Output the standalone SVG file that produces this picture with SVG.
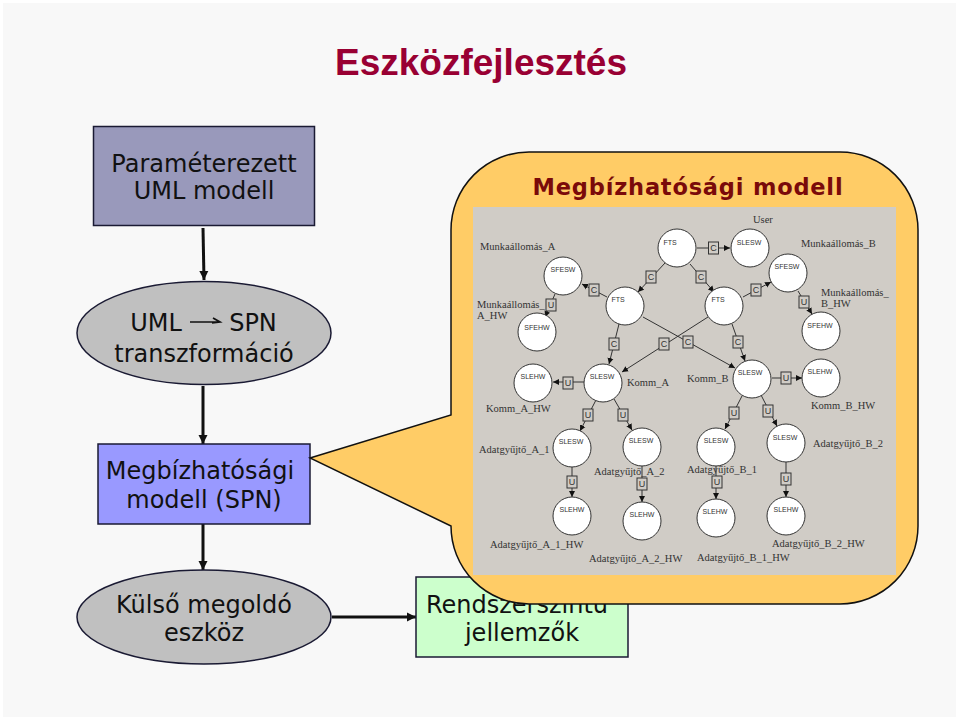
<svg xmlns="http://www.w3.org/2000/svg" width="960" height="720" viewBox="0 0 960 720">
<style>
.t{font-family:"DejaVu Sans",Verdana,sans-serif;font-size:24px;fill:#111;text-anchor:middle}
.s{stroke:#1a1a33;stroke-width:1.5}
.f{stroke:#111;stroke-width:3;fill:none}
.e{stroke:#333;stroke-width:1;fill:none;marker-end:url(#sm)}
.c{fill:#fff;stroke:#333;stroke-width:1}
.n{font-family:"Liberation Sans",Arial,sans-serif;font-size:7px;fill:#333;text-anchor:middle}
.l{font-family:"Liberation Serif","Times New Roman",serif;font-size:10.5px;fill:#333}
.b{fill:#d0ccc6;stroke:#333;stroke-width:1}
.m{font-family:"Liberation Sans",Arial,sans-serif;font-size:9px;fill:#333;text-anchor:middle}
</style>
<defs>
<marker id="big" markerUnits="userSpaceOnUse" markerWidth="10" markerHeight="10" refX="9" refY="5" orient="auto"><path d="M0 0.5L9 5L0 9.5z" fill="#111"/></marker>
<marker id="sm" markerUnits="userSpaceOnUse" markerWidth="7" markerHeight="7" refX="6" refY="3.5" orient="auto"><path d="M0 0.5L6 3.5L0 6.5z" fill="#111"/></marker>
</defs>
<rect width="960" height="720" fill="#fff"/>
<rect x="3" y="3" width="953" height="714" fill="#f8f8f8"/>
<text x="481" y="75" font-family="Liberation Sans,Arial,sans-serif" font-weight="700" font-size="37" fill="#990033" text-anchor="middle">Eszközfejlesztés</text>

<g id="connectors">
<path class="f" d="M203 228L204 280" marker-end="url(#big)"/>
<path class="f" d="M203 386V444" marker-end="url(#big)"/>
<path class="f" d="M203 524V570" marker-end="url(#big)"/>
<path class="f" d="M332 617H416" marker-end="url(#big)"/>
</g>

<g id="uml-modell"><rect class="s" x="93.500" y="126.500" width="221" height="99" fill="#9999bb"/><text class="t" x="204" y="172">Paraméterezett</text><text class="t" x="204" y="199">UML modell</text></g>
<g id="transzformacio"><ellipse class="s" cx="204" cy="333" rx="127" ry="51.500" fill="#c0c0c0"/><text class="t" x="156" y="331">UML</text><path d="M190 322H219M213 318L220 322L212 322.800" stroke="#111" stroke-width="1.700" fill="none"/><text class="t" x="253" y="331">SPN</text><text class="t" x="204" y="362">transzformáció</text></g>
<g id="spn-modell"><rect class="s" x="98" y="444" width="212" height="80" fill="#9999ff"/><text class="t" x="200" y="479">Megbízhatósági</text><text class="t" x="204" y="508">modell (SPN)</text></g>
<g id="megoldo"><ellipse class="s" cx="204" cy="617" rx="127" ry="47" fill="#c0c0c0"/><text class="t" x="204" y="613">Külső megoldó</text><text class="t" x="204" y="641">eszköz</text></g>
<g id="jellemzok"><rect class="s" x="416" y="577" width="212" height="80" fill="#ccffcc"/><text class="t" x="517" y="613">Rendszerszintű</text><text class="t" x="522" y="641">jellemzők</text></g>

<g id="callout">
<path d="M310 458L451 415V230A78 78 0 0 1 529 152H840A78 78 0 0 1 918 230V526A78 78 0 0 1 840 604H529A78 78 0 0 1 451 526Z" fill="#ffcc66" stroke="#111" stroke-width="1.500"/>
<text x="688" y="195" font-family="DejaVu Sans,Verdana,sans-serif" font-weight="700" font-size="22.500" letter-spacing="0.800" fill="#7a0a0a" text-anchor="middle">Megbízhatósági modell</text>
<rect x="473" y="207" width="423" height="368" fill="#d0ccc6"/>
</g>

<g id="inner-connectors">
<path class="e" d="M697 248H730"/>
<path class="e" d="M665 263L638 292"/>
<path class="e" d="M690 264L714 292"/>
<path class="e" d="M607 297L582 284"/>
<path class="e" d="M743 297L771 282"/>
<path class="e" d="M555 294L545 317"/>
<path class="e" d="M798 291L812 314"/>
<path class="e" d="M619 324L609 364"/>
<path class="e" d="M708 317L622 372"/>
<path class="e" d="M643 317L735 368"/>
<path class="e" d="M732 324L745 361"/>
<path class="e" d="M584 382H553"/>
<path class="e" d="M772 378H802"/>
<path class="e" d="M596 400L580 431"/>
<path class="e" d="M614 399L632 430"/>
<path class="e" d="M742 396L725 429"/>
<path class="e" d="M761 395L777 426"/>
<path class="e" d="M572 467V497"/>
<path class="e" d="M642 465V502"/>
<path class="e" d="M716 465V499"/>
<path class="e" d="M786 462V497"/>
<g><rect class="b" x="708.500" y="242" width="10" height="12"/><text class="m" x="713.500" y="251">C</text></g>
<g><rect class="b" x="646" y="271" width="10" height="12"/><text class="m" x="651" y="280">C</text></g>
<g><rect class="b" x="696" y="271" width="10" height="12"/><text class="m" x="701" y="280">C</text></g>
<g><rect class="b" x="589" y="284" width="10" height="12"/><text class="m" x="594" y="293">C</text></g>
<g><rect class="b" x="751" y="284" width="10" height="12"/><text class="m" x="756" y="293">C</text></g>
<g><rect class="b" x="546" y="299" width="10" height="12"/><text class="m" x="551" y="308">U</text></g>
<g><rect class="b" x="799" y="296" width="10" height="12"/><text class="m" x="804" y="305">U</text></g>
<g><rect class="b" x="609" y="338" width="10" height="12"/><text class="m" x="614" y="347">C</text></g>
<g><rect class="b" x="659" y="338" width="10" height="12"/><text class="m" x="664" y="347">C</text></g>
<g><rect class="b" x="683" y="336" width="10" height="12"/><text class="m" x="688" y="345">C</text></g>
<g><rect class="b" x="733" y="336" width="10" height="12"/><text class="m" x="738" y="345">C</text></g>
<g><rect class="b" x="563" y="377" width="10" height="12"/><text class="m" x="568" y="386">U</text></g>
<g><rect class="b" x="781" y="372" width="10" height="12"/><text class="m" x="786" y="381">U</text></g>
<g><rect class="b" x="583" y="409" width="10" height="12"/><text class="m" x="588" y="418">U</text></g>
<g><rect class="b" x="618" y="409" width="10" height="12"/><text class="m" x="623" y="418">U</text></g>
<g><rect class="b" x="729" y="407" width="10" height="12"/><text class="m" x="734" y="416">U</text></g>
<g><rect class="b" x="763" y="405" width="10" height="12"/><text class="m" x="768" y="414">U</text></g>
<g><rect class="b" x="567" y="476" width="10" height="12"/><text class="m" x="572" y="485">U</text></g>
<g><rect class="b" x="637" y="478" width="10" height="12"/><text class="m" x="642" y="487">U</text></g>
<g><rect class="b" x="712" y="476" width="10" height="12"/><text class="m" x="717" y="485">U</text></g>
<g><rect class="b" x="781" y="473" width="10" height="12"/><text class="m" x="786" y="482">U</text></g>
</g>

<g id="n1"><circle class="c" cx="677" cy="248" r="19"/><text class="n" x="670" y="245">FTS</text></g>
<g id="n2"><circle class="c" cx="750" cy="248" r="19"/><text class="n" x="749" y="245">SLESW</text></g>
<g id="n3"><circle class="c" cx="563" cy="276" r="19"/><text class="n" x="563" y="272">SFESW</text></g>
<g id="n4"><circle class="c" cx="625" cy="306" r="19"/><text class="n" x="618" y="302">FTS</text></g>
<g id="n5"><circle class="c" cx="724" cy="306" r="19"/><text class="n" x="718" y="302">FTS</text></g>
<g id="n6"><circle class="c" cx="788" cy="273" r="19"/><text class="n" x="787" y="269">SFESW</text></g>
<g id="n7"><circle class="c" cx="537" cy="332" r="19"/><text class="n" x="537" y="330">SFEHW</text></g>
<g id="n8"><circle class="c" cx="821" cy="331" r="19"/><text class="n" x="820" y="328">SFEHW</text></g>
<g id="n9"><circle class="c" cx="533" cy="383" r="19"/><text class="n" x="533" y="379">SLEHW</text></g>
<g id="n10"><circle class="c" cx="603" cy="383" r="19"/><text class="n" x="602" y="379">SLESW</text></g>
<g id="n11"><circle class="c" cx="752" cy="379" r="19"/><text class="n" x="750" y="375">SLESW</text></g>
<g id="n12"><circle class="c" cx="821" cy="378" r="19"/><text class="n" x="820" y="374">SLEHW</text></g>
<g id="n13"><circle class="c" cx="572" cy="448" r="19"/><text class="n" x="571" y="444">SLESW</text></g>
<g id="n14"><circle class="c" cx="642" cy="447" r="19"/><text class="n" x="641" y="443">SLESW</text></g>
<g id="n15"><circle class="c" cx="716" cy="447" r="19"/><text class="n" x="716" y="443">SLESW</text></g>
<g id="n16"><circle class="c" cx="786" cy="443" r="19"/><text class="n" x="785" y="440">SLESW</text></g>
<g id="n17"><circle class="c" cx="572" cy="516" r="19"/><text class="n" x="572" y="512">SLEHW</text></g>
<g id="n18"><circle class="c" cx="642" cy="521" r="19"/><text class="n" x="642" y="517">SLEHW</text></g>
<g id="n19"><circle class="c" cx="716" cy="518" r="19"/><text class="n" x="715" y="514">SLEHW</text></g>
<g id="n20"><circle class="c" cx="786" cy="516" r="19"/><text class="n" x="786" y="512">SLEHW</text></g>

<g id="inner-labels">
<text class="l" x="753" y="223">User</text>
<text class="l" x="480" y="250">Munkaállomás_A</text>
<text class="l" x="801" y="247">Munkaállomás_B</text>
<text class="l" x="821" y="296">Munkaállomás_</text>
<text class="l" x="821" y="307">B_HW</text>
<text class="l" x="477" y="308">Munkaállomás_</text>
<text class="l" x="477" y="319">A_HW</text>
<text class="l" x="627" y="386">Komm_A</text>
<text class="l" x="687" y="382">Komm_B</text>
<text class="l" x="486" y="412">Komm_A_HW</text>
<text class="l" x="811" y="409">Komm_B_HW</text>
<text class="l" x="479" y="453">Adatgyűjtő_A_1</text>
<text class="l" x="594" y="475">Adatgyűjtő_A_2</text>
<text class="l" x="687" y="473">Adatgyűjtő_B_1</text>
<text class="l" x="813" y="447">Adatgyűjtő_B_2</text>
<text class="l" x="490" y="548">Adatgyűjtő_A_1_HW</text>
<text class="l" x="589" y="562">Adatgyűjtő_A_2_HW</text>
<text class="l" x="697" y="561">Adatgyűjtő_B_1_HW</text>
<text class="l" x="772" y="547">Adatgyűjtő_B_2_HW</text>
</g>
</svg>
